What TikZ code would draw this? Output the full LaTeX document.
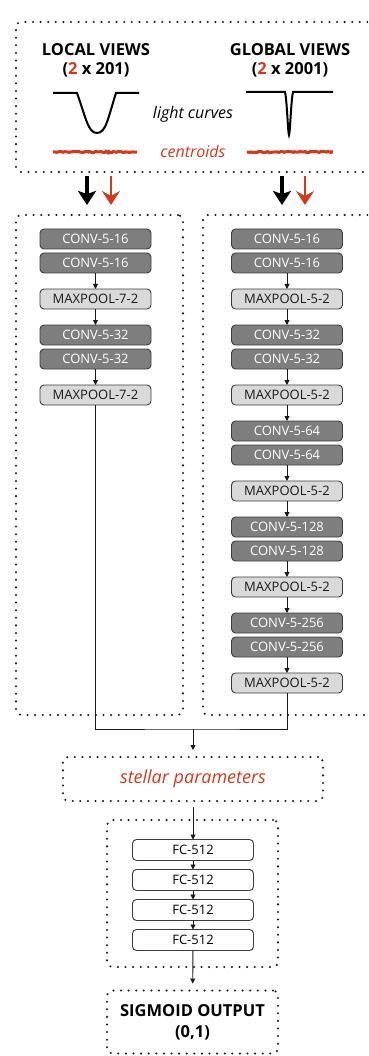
\documentclass[tikz,border=0pt]{standalone}
\usepackage{fontspec}
\setmainfont{Open Sans}
\usetikzlibrary{arrows.meta, positioning, decorations.pathmorphing}
\definecolor{ink}{HTML}{1A1A1A}
\definecolor{edge}{HTML}{3C3C3C}
\definecolor{convfill}{HTML}{7E7E7E}
\definecolor{poolfill}{HTML}{D9D9D9}
\definecolor{hot}{HTML}{D4391C}
\tikzset{
  layer/.style   ={draw=edge, line width=0.9pt, rounded corners=4pt,
                   minimum width=111pt, minimum height=20pt, inner sep=1pt,
                   outer sep=0pt, font=\fontsize{13}{13}\selectfont},
  conv/.style    ={layer, fill=convfill, text=white},
  pool/.style    ={layer, fill=poolfill, text=ink},
  fc/.style      ={layer, fill=white, minimum width=121pt, minimum height=21pt},
  group/.style   ={draw=ink, line width=2.3pt, dash pattern=on 0pt off 7.6pt,
                   line cap=round, rounded corners=5pt, inner sep=0pt, outer sep=0pt},
  link/.style    ={draw=ink, line width=0.9pt},
  flow/.style    ={link, -{Triangle[length=5pt,width=5pt]}},
  bigflow/.style ={-{Stealth[length=14pt,width=18pt,inset=3pt]}, line width=3.5pt, draw=black},
  redflow/.style ={-{Stealth[length=14pt,width=18pt,inset=5pt]}, line width=2.8pt, draw=hot},
  curve/.style   ={line width=2pt, draw=black},
  centroid/.style={draw=hot, line width=3pt, decorate,
                   decoration={random steps, segment length=1.6pt, amplitude=0.7pt}},
  title/.style   ={font=\bfseries\fontsize{16.5}{19}\selectfont, align=center},
  note/.style    ={font=\itshape\fontsize{16}{16}\selectfont}
}
\pgfmathsetseed{7}

\begin{document}
\begin{tikzpicture}[x=1pt, y=-1pt, node distance=4pt]
  \useasboundingbox (0,0) rectangle (368,1056);
  \clip (0,0) rectangle (368,1056);

  % input views
  \node[group, minimum width=364pt, minimum height=150pt] (views) at (198,97) {};
  \node[title] (localt)  at (96,60)  {LOCAL VIEWS\\(\textcolor{hot}{2} x 201)};
  \node[title] (globalt) at (290,60) {GLOBAL VIEWS\\(\textcolor{hot}{2} x 2001)};
  \node[note] (lc)  at (193,114) {light curves};
  \node[note, text=hot] (cen) at (193,152) {centroids};

  \draw[curve] (53,93) -- (77,93) .. controls (86,118) and (88,133) .. (97,133)
               .. controls (106,133) and (108,118) .. (116,93) -- (139,93);
  \draw[curve] (246,92) -- (285,92) .. controls (287,100) and (288,135) .. (289,135)
               .. controls (290,135) and (291,100) .. (293,92) -- (333,92);
  \draw[centroid] (53,152) -- (137,152);
  \draw[centroid] (247,152) -- (333,152);

  \coordinate (lblack) at (87,176);
  \coordinate (lred)   at (111,176);
  \coordinate (gblack) at (282,176);
  \coordinate (gred)   at (305,176);
  \draw[bigflow] (lblack) -- ++(0,29);
  \draw[redflow] (lred)   -- ++(0,29);
  \draw[bigflow] (gblack) -- ++(0,29);
  \draw[redflow] (gred)   -- ++(0,29);

  % local column
  \node[group, minimum width=167pt, minimum height=500pt] (localcol) at (99.5,465) {};
  \node[conv] (l1) at (95.5,239) {CONV-5-16};
  \node[conv, below=of l1]      (l2) {CONV-5-16};
  \node[pool, below=16pt of l2] (l3) {MAXPOOL-7-2};
  \node[conv, below=16pt of l3] (l4) {CONV-5-32};
  \node[conv, below=of l4]      (l5) {CONV-5-32};
  \node[pool, below=16pt of l5] (l6) {MAXPOOL-7-2};
  \draw[flow] (l2) -- (l3);
  \draw[flow] (l3) -- (l4);
  \draw[flow] (l5) -- (l6);

  % global column
  \node[group, minimum width=177pt, minimum height=500pt] (globalcol) at (291.5,465) {};
  \node[conv] (g1) at (287,239) {CONV-5-16};
  \node[conv, below=of g1]       (g2)  {CONV-5-16};
  \node[pool, below=16pt of g2]  (g3)  {MAXPOOL-5-2};
  \node[conv, below=16pt of g3]  (g4)  {CONV-5-32};
  \node[conv, below=of g4]       (g5)  {CONV-5-32};
  \node[pool, below=16pt of g5]  (g6)  {MAXPOOL-5-2};
  \node[conv, below=16pt of g6]  (g7)  {CONV-5-64};
  \node[conv, below=of g7]       (g8)  {CONV-5-64};
  \node[pool, below=16pt of g8]  (g9)  {MAXPOOL-5-2};
  \node[conv, below=16pt of g9]  (g10) {CONV-5-128};
  \node[conv, below=of g10]      (g11) {CONV-5-128};
  \node[pool, below=16pt of g11] (g12) {MAXPOOL-5-2};
  \node[conv, below=16pt of g12] (g13) {CONV-5-256};
  \node[conv, below=of g13]      (g14) {CONV-5-256};
  \node[pool, below=16pt of g14] (g15) {MAXPOOL-5-2};
  \draw[flow] (g2)  -- (g3);
  \draw[flow] (g3)  -- (g4);
  \draw[flow] (g5)  -- (g6);
  \draw[flow] (g6)  -- (g7);
  \draw[flow] (g8)  -- (g9);
  \draw[flow] (g9)  -- (g10);
  \draw[flow] (g11) -- (g12);
  \draw[flow] (g12) -- (g13);
  \draw[flow] (g14) -- (g15);

  % merge and fully connected part
  \coordinate (merge) at (193,729);
  \draw[link] (l6.south) |- (merge) -| (g15.south);
  \node[group, minimum width=260pt, minimum height=44pt, text=hot,
        font=\itshape\fontsize{18}{18}\selectfont] (stellar) at (193,779) {stellar parameters};
  \draw[flow, shorten >=7pt] (merge) -- (stellar.north);

  \node[group, minimum width=171pt, minimum height=147pt] (fcgroup) at (192.5,893.5) {};
  \node[fc] (f1) at (193,850) {FC-512};
  \node[fc, below=9pt of f1] (f2) {FC-512};
  \node[fc, below=9pt of f2] (f3) {FC-512};
  \node[fc, below=9pt of f3] (f4) {FC-512};
  \draw[flow, shorten <=6pt] (stellar) -- (f1);
  \draw[flow] (f1) -- (f2);
  \draw[flow] (f2) -- (f3);
  \draw[flow] (f3) -- (f4);

  \node[group, minimum width=171pt, minimum height=63pt, align=center,
        font=\bfseries\fontsize{16.5}{21}\selectfont] (output) at (192.5,1022) {SIGMOID OUTPUT\\(0,1)};
  \draw[flow, shorten >=7pt] (f4) -- (output);
\end{tikzpicture}
\end{document}
